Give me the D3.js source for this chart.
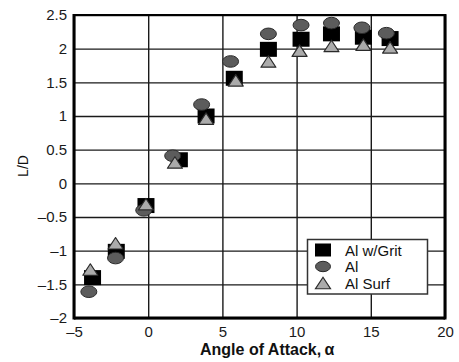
<!DOCTYPE html>
<html>
<head>
<meta charset="utf-8">
<script src="https://cdn.jsdelivr.net/npm/d3@7"></script>
<style>
  body { margin: 0; background: #fff; }
  svg { display: block; }
  text { font-family: Arial, "Liberation Sans", Helvetica, sans-serif; }
</style>
</head>
<body>
<svg id="chart" width="459" height="362"></svg>
<script>
// Axis ticks
const alphaTicks = [-5, 0, 5, 10, 15, 20];
const ldTicks = [-2, -1.5, -1, -0.5, 0, 0.5, 1, 1.5, 2, 2.5];

// Series: lift-to-drag ratio vs angle of attack
const seriesNames = ["Al w/Grit", "Al", "Al Surf"];
const gritAlpha = [-3.75, -2.15, -0.15, 2.1, 3.9, 5.8, 8.1, 10.3, 12.35, 14.5, 16.3];
const gritLD    = [-1.40, -1.01, -0.33, 0.35, 1.00, 1.56, 1.99, 2.14, 2.22, 2.17, 2.15];
const alAlpha   = [-4.0, -2.2, -0.3, 1.65, 3.6, 5.55, 8.1, 10.3, 12.35, 14.4, 16.05];
const alLD      = [-1.61, -1.11, -0.40, 0.41, 1.17, 1.81, 2.22, 2.35, 2.38, 2.31, 2.23];
const surfAlpha = [-3.9, -2.2, -0.15, 1.8, 3.9, 5.9, 8.1, 10.2, 12.35, 14.5, 16.3];
const surfLD    = [-1.28, -0.89, -0.31, 0.31, 0.96, 1.53, 1.81, 1.97, 2.04, 2.06, 2.02];

const svg = d3.select("#chart");
const plotL = 74, plotR = 445, plotT = 15, plotB = 318;

const x = d3.scaleLinear().domain([-5, 20]).range([plotL, plotR]);
const y = d3.scaleLinear().domain([-2, 2.5]).range([plotB, plotT]);

const fmt = d => (d < 0 ? "\u2013" : "") + Math.abs(d);

// Grid + tick labels
const gx = svg.append("g").attr("transform", `translate(0,${plotB})`)
  .call(d3.axisBottom(x).tickValues(alphaTicks).tickFormat(fmt)
    .tickSizeInner(-(plotB - plotT)).tickSizeOuter(0).tickPadding(8));
const gy = svg.append("g").attr("transform", `translate(${plotL},0)`)
  .call(d3.axisLeft(y).tickValues(ldTicks).tickFormat(fmt)
    .tickSizeInner(-(plotR - plotL)).tickSizeOuter(0).tickPadding(7));
[gx, gy].forEach(g => {
  g.select(".domain").remove();
  g.selectAll(".tick line").attr("stroke", "#1a1a1a").attr("stroke-width", 1.4);
  g.selectAll(".tick text").attr("font-size", 15).attr("fill", "#1a1a1a")
    .attr("font-family", "Arial, 'Liberation Sans', sans-serif");
});

// Frame
const frame = svg.append("g").attr("stroke", "#000");
frame.append("line").attr("x1", plotL).attr("x2", plotL).attr("y1", plotT - 1).attr("y2", plotB + 1.5).attr("stroke-width", 3);
frame.append("line").attr("x1", plotR).attr("x2", plotR).attr("y1", plotT - 1).attr("y2", plotB + 1.5).attr("stroke-width", 3);
frame.append("line").attr("x1", plotL).attr("x2", plotR).attr("y1", plotB).attr("y2", plotB).attr("stroke-width", 3);
frame.append("line").attr("x1", plotL).attr("x2", plotR).attr("y1", plotT).attr("y2", plotT).attr("stroke-width", 2);

// Marker shapes
const sqW = 17, sqH = 15, elRx = 8, elRy = 5.8, trW = 15, trH = 11.5;
const triPath = (cx, cy) =>
  `M${cx},${cy - trH / 2}L${cx + trW / 2},${cy + trH / 2}L${cx - trW / 2},${cy + trH / 2}Z`;

const pts = (xs, ys) => xs.map((a, i) => ({ a, v: ys[i] }));

svg.append("g").selectAll("rect").data(pts(gritAlpha, gritLD)).join("rect")
  .attr("x", d => x(d.a) - sqW / 2).attr("y", d => y(d.v) - sqH / 2)
  .attr("width", sqW).attr("height", sqH).attr("fill", "#000");

svg.append("g").selectAll("ellipse").data(pts(alAlpha, alLD)).join("ellipse")
  .attr("cx", d => x(d.a)).attr("cy", d => y(d.v))
  .attr("rx", elRx).attr("ry", elRy)
  .attr("fill", "#5c5c5c").attr("stroke", "#2a2a2a").attr("stroke-width", 1);

svg.append("g").selectAll("path").data(pts(surfAlpha, surfLD)).join("path")
  .attr("d", d => triPath(x(d.a), y(d.v)))
  .attr("fill", "#ababab").attr("stroke", "#2a2a2a").attr("stroke-width", 1.2)
  .attr("stroke-linejoin", "round");

// Legend
const lg = svg.append("g");
lg.append("rect").attr("x", 307.5).attr("y", 239.5).attr("width", 120).attr("height", 54.5)
  .attr("fill", "#fff").attr("stroke", "#333").attr("stroke-width", 1.5);
const lx = 323, rows = [250, 266.5, 283];
lg.append("rect").attr("x", lx - 8).attr("y", rows[0] - 6.5).attr("width", 16).attr("height", 13).attr("fill", "#000");
lg.append("ellipse").attr("cx", lx).attr("cy", rows[1]).attr("rx", 7.5).attr("ry", 5.2)
  .attr("fill", "#5c5c5c").attr("stroke", "#2a2a2a");
lg.append("path").attr("d", triPath(lx, rows[2]))
  .attr("fill", "#ababab").attr("stroke", "#2a2a2a").attr("stroke-width", 1.2);
lg.selectAll("text.lab").data(seriesNames).join("text").attr("class", "lab")
  .attr("x", 345).attr("y", (d, i) => rows[i] + 5.5)
  .attr("font-size", 15).attr("fill", "#111").text(d => d);

// Axis titles
svg.append("text").attr("x", 200).attr("y", 355)
  .attr("font-size", 16).attr("font-weight", "bold").attr("fill", "#111")
  .text("Angle of Attack,\u2009\u03b1");
svg.append("text").attr("transform", "translate(28,166) rotate(-90)")
  .attr("text-anchor", "middle").attr("font-size", 14).attr("fill", "#111")
  .text("L/D");
</script>
</body>
</html>
